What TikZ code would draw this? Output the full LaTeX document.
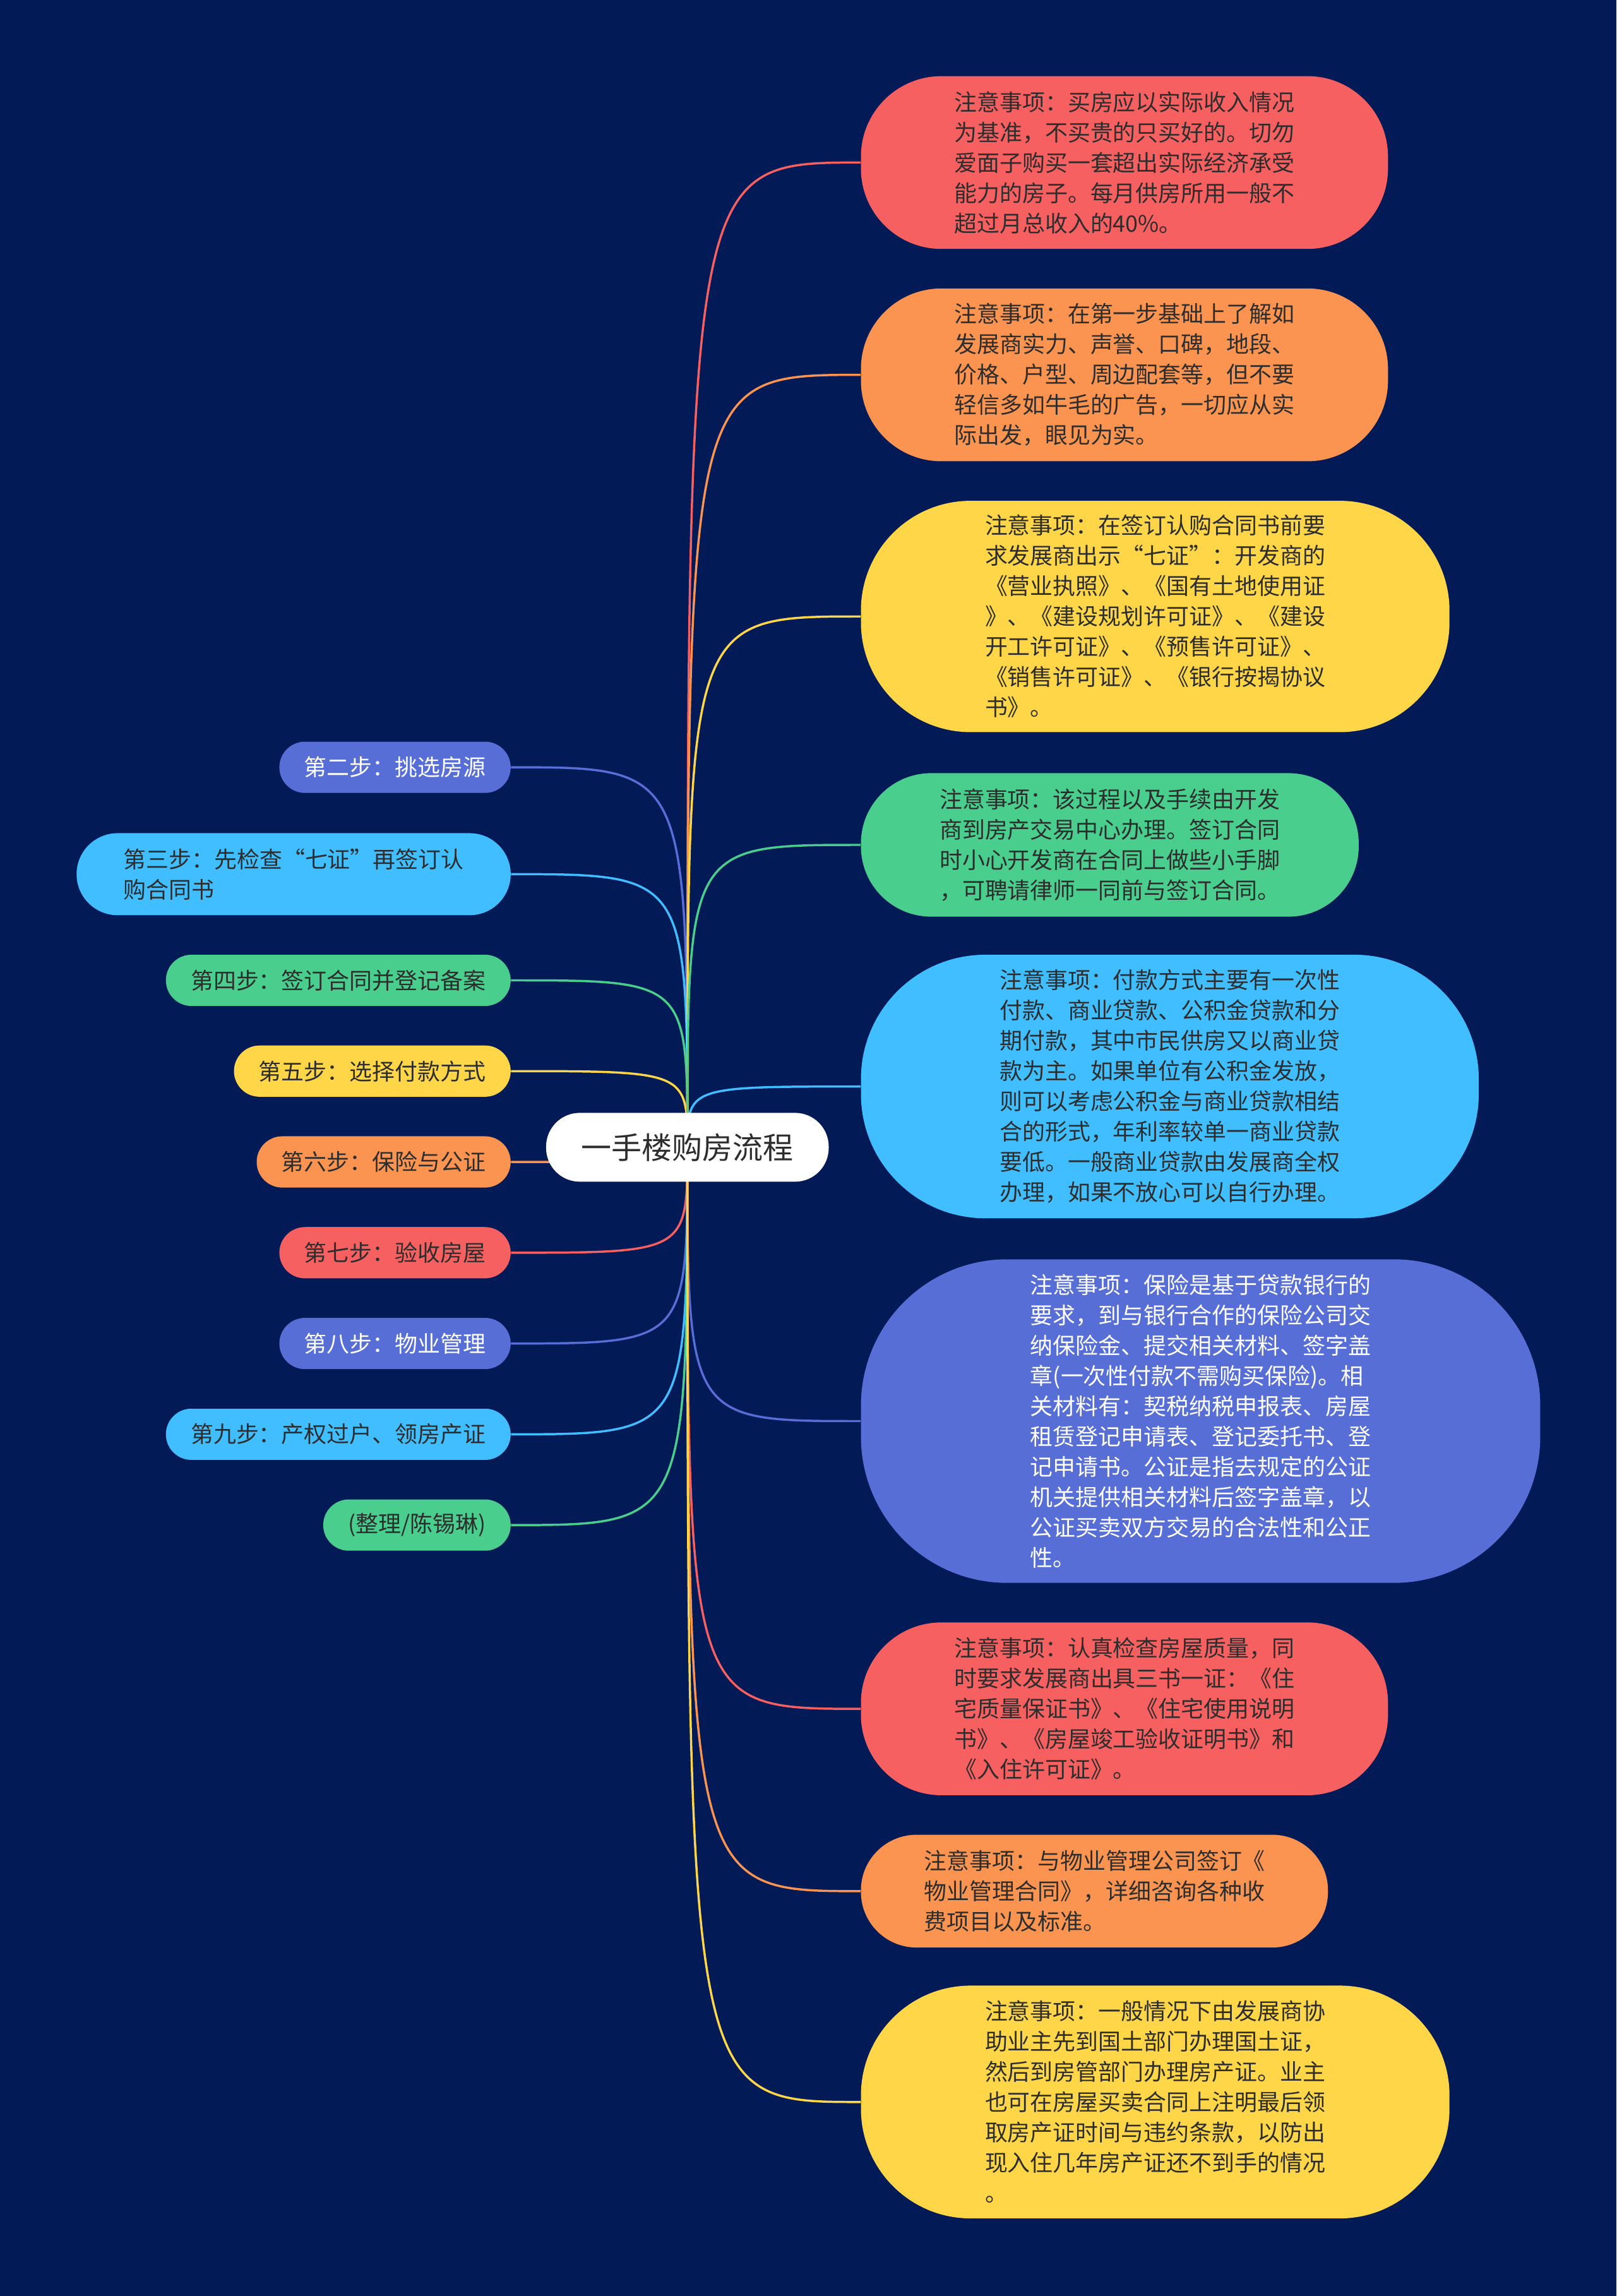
\documentclass[tikz,border=0pt]{standalone}
\usepackage{fontspec}
\setmainfont{Noto Sans CJK SC}
\usetikzlibrary{positioning,backgrounds}
\definecolor{mapNavy}{RGB}{2,26,86}
\definecolor{mapRed}{RGB}{246,96,96}
\definecolor{mapOrange}{RGB}{250,148,80}
\definecolor{mapYellow}{RGB}{254,214,72}
\definecolor{mapGreen}{RGB}{74,206,142}
\definecolor{mapSky}{RGB}{64,190,255}
\definecolor{mapBlue}{RGB}{86,110,214}
\definecolor{mapInk}{RGB}{45,45,45}

\begin{document}
\begin{tikzpicture}[
  x=1pt, y=-1pt,
  root/.style={
    fill=white,
    rounded corners=23pt,
    minimum width=193pt,
    minimum height=47pt,
    font=\fontsize{20.7}{24}\selectfont,
    text=mapInk
  },
  stepbox/.style={
    fill=#1,
    rounded corners=17.5pt,
    minimum height=35pt,
    inner xsep=17pt,
    anchor=east,
    font=\fontsize{15.5}{20.7}\selectfont,
    text=mapInk
  },
  note/.style={
    fill=#1,
    align=left,
    font=\fontsize{15.5}{20.7}\selectfont,
    text=mapInk
  },
  branch/.style={draw=#1, line width=1.5pt}
]
  \begin{pgfonlayer}{background}
    \fill[mapNavy] (0,0) rectangle (1104,1568);
  \end{pgfonlayer}

  % centre
  \node[root] (root) at (469.5,783.5) {一手楼购房流程};

  % steps on the left
  \node[stepbox=mapBlue, text=white] (s2) at (349,524) {第二步：挑选房源};
  \node[stepbox=mapSky, align=left, minimum height=56pt,
    rounded corners=28pt, inner xsep=32pt] (s3) at (349,597)
    {第三步：先检查“七证”再签订认\\购合同书};
  \node[stepbox=mapGreen] (s4) at (349,669.5) {第四步：签订合同并登记备案};
  \node[stepbox=mapYellow] (s5) at (349,731.5) {第五步：选择付款方式};
  \node[stepbox=mapOrange] (s6) at (349,793.5) {第六步：保险与公证};
  \node[stepbox=mapRed] (s7) at (349,855.5) {第七步：验收房屋};
  \node[stepbox=mapBlue, text=white] (s8) at (349,917.5) {第八步：物业管理};
  \node[stepbox=mapSky] (s9) at (349,979.5) {第九步：产权过户、领房产证};
  \node[stepbox=mapGreen] (editor) at (349,1041.5) {(整理/陈锡琳)};

  % notes on the right
  \node[note=mapRed, minimum width=360pt, minimum height=118pt,
    rounded corners=55pt] (n1) at (768,111)
    {注意事项：买房应以实际收入情况\\为基准，不买贵的只买好的。切勿\\爱面子购买一套超出实际经济承受\\能力的房子。每月供房所用一般不\\超过月总收入的40\%。};
  \node[note=mapOrange, minimum width=360pt, minimum height=118pt,
    rounded corners=55pt] (n2) at (768,256)
    {注意事项：在第一步基础上了解如\\发展商实力、声誉、口碑，地段、\\价格、户型、周边配套等，但不要\\轻信多如牛毛的广告，一切应从实\\际出发，眼见为实。};
  \node[note=mapYellow, minimum width=402pt, minimum height=158pt,
    rounded corners=75pt] (n3) at (789,421)
    {注意事项：在签订认购合同书前要\\求发展商出示“七证”：开发商的\\《营业执照》、《国有土地使用证\\》、《建设规划许可证》、《建设\\开工许可证》、《预售许可证》、\\《销售许可证》、《银行按揭协议\\书》。};
  \node[note=mapGreen, minimum width=340pt, minimum height=98pt,
    rounded corners=48pt] (n4) at (758,577)
    {注意事项：该过程以及手续由开发\\商到房产交易中心办理。签订合同\\时小心开发商在合同上做些小手脚\\，可聘请律师一同前与签订合同。};
  \node[note=mapSky, minimum width=422pt, minimum height=180pt,
    rounded corners=85pt] (n5) at (799,742)
    {注意事项：付款方式主要有一次性\\付款、商业贷款、公积金贷款和分\\期付款，其中市民供房又以商业贷\\款为主。如果单位有公积金发放，\\则可以考虑公积金与商业贷款相结\\合的形式，年利率较单一商业贷款\\要低。一般商业贷款由发展商全权\\办理，如果不放心可以自行办理。};
  \node[note=mapBlue, text=white, minimum width=464pt, minimum height=221pt,
    rounded corners=100pt] (n6) at (820,970.5)
    {注意事项：保险是基于贷款银行的\\要求，到与银行合作的保险公司交\\纳保险金、提交相关材料、签字盖\\章(一次性付款不需购买保险)。相\\关材料有：契税纳税申报表、房屋\\租赁登记申请表、登记委托书、登\\记申请书。公证是指去规定的公证\\机关提供相关材料后签字盖章，以\\公证买卖双方交易的合法性和公正\\性。};
  \node[note=mapRed, minimum width=360pt, minimum height=118pt,
    rounded corners=55pt] (n7) at (768,1167)
    {注意事项：认真检查房屋质量，同\\时要求发展商出具三书一证：《住\\宅质量保证书》、《住宅使用说明\\书》、《房屋竣工验收证明书》和\\《入住许可证》。};
  \node[note=mapOrange, minimum width=319pt, minimum height=77pt,
    rounded corners=38pt] (n8) at (747.5,1291.5)
    {注意事项：与物业管理公司签订《\\物业管理合同》，详细咨询各种收\\费项目以及标准。};
  \node[note=mapYellow, minimum width=402pt, minimum height=159pt,
    rounded corners=75pt] (n9) at (789,1435.5)
    {注意事项：一般情况下由发展商协\\助业主先到国土部门办理国土证，\\然后到房管部门办理房产证。业主\\也可在房屋买卖合同上注明最后领\\取房产证时间与违约条款，以防出\\现入住几年房产证还不到手的情况\\。};

  % branches, behind the boxes
  \begin{pgfonlayer}{background}
    \draw[branch=mapBlue] (root.center) .. controls (root.center |- s2.east) .. (s2.east);
    \draw[branch=mapSky] (root.center) .. controls (root.center |- s3.east) .. (s3.east);
    \draw[branch=mapGreen] (root.center) .. controls (root.center |- s4.east) .. (s4.east);
    \draw[branch=mapYellow] (root.center) .. controls (root.center |- s5.east) .. (s5.east);
    \draw[branch=mapOrange] (root.center) .. controls (root.center |- s6.east) .. (s6.east);
    \draw[branch=mapRed] (root.center) .. controls (root.center |- s7.east) .. (s7.east);
    \draw[branch=mapBlue] (root.center) .. controls (root.center |- s8.east) .. (s8.east);
    \draw[branch=mapSky] (root.center) .. controls (root.center |- s9.east) .. (s9.east);
    \draw[branch=mapGreen] (root.center) .. controls (root.center |- editor.east) .. (editor.east);
    \draw[branch=mapRed] (root.center) .. controls (root.center |- n1.west) .. (n1.west);
    \draw[branch=mapOrange] (root.center) .. controls (root.center |- n2.west) .. (n2.west);
    \draw[branch=mapYellow] (root.center) .. controls (root.center |- n3.west) .. (n3.west);
    \draw[branch=mapGreen] (root.center) .. controls (root.center |- n4.west) .. (n4.west);
    \draw[branch=mapSky] (root.center) .. controls (root.center |- n5.west) .. (n5.west);
    \draw[branch=mapBlue] (root.center) .. controls (root.center |- n6.west) .. (n6.west);
    \draw[branch=mapRed] (root.center) .. controls (root.center |- n7.west) .. (n7.west);
    \draw[branch=mapOrange] (root.center) .. controls (root.center |- n8.west) .. (n8.west);
    \draw[branch=mapYellow] (root.center) .. controls (root.center |- n9.west) .. (n9.west);
  \end{pgfonlayer}
\end{tikzpicture}
\end{document}
